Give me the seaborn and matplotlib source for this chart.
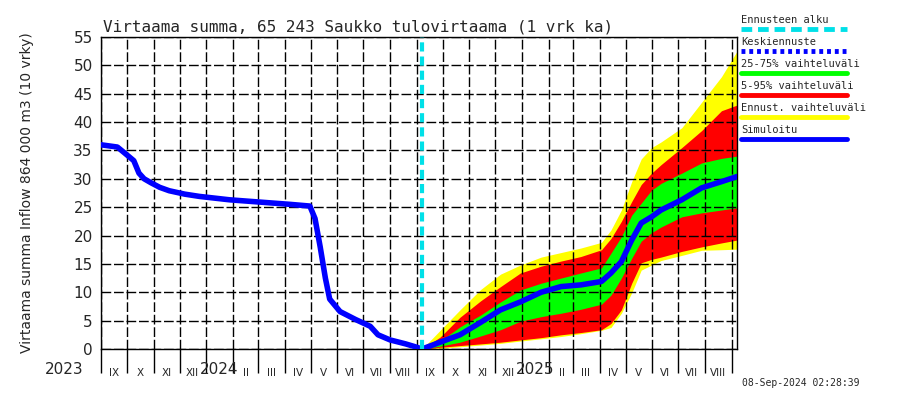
import matplotlib
matplotlib.use("Agg")
import matplotlib.pyplot as plt
import matplotlib.dates as mdates
import matplotlib.ticker as mticker
import matplotlib.transforms as mtransforms
from matplotlib.lines import Line2D
import pandas as pd
import seaborn as sns

# historiallinen simuloitu summa
hist_dates = ["2023-09-01", "2023-09-20", "2023-09-28", "2023-10-09", "2023-10-15",
              "2023-10-21", "2023-10-29", "2023-11-08", "2023-11-19", "2023-12-07",
              "2023-12-24", "2024-01-28", "2024-03-03", "2024-04-07", "2024-04-30",
              "2024-05-06", "2024-05-12", "2024-05-18", "2024-05-23", "2024-06-04",
              "2024-06-22", "2024-07-09", "2024-07-18", "2024-08-01", "2024-08-19",
              "2024-08-30", "2024-09-07"]
hist_values = [36.0, 35.6, 34.6, 33.2, 31.0, 30.0, 29.3, 28.5, 27.9, 27.3,
               26.9, 26.3, 25.9, 25.5, 25.2, 23.0, 18.0, 12.5, 8.8, 6.6,
               5.2, 4.0, 2.5, 1.6, 0.9, 0.4, 0.0]

# ennuste
fc_dates = ["2024-09-07", "2024-09-28", "2024-10-21", "2024-11-14", "2024-12-07",
            "2024-12-30", "2025-01-23", "2025-02-15", "2025-03-10", "2025-04-03",
            "2025-04-14", "2025-04-26", "2025-05-08", "2025-05-19", "2025-05-31",
            "2025-06-11", "2025-07-05", "2025-07-28", "2025-08-20", "2025-09-07"]
fc_median = [0.0, 1.2, 2.5, 4.7, 6.9, 8.3, 10.0, 11.0, 11.3, 11.9,
             13.4, 15.4, 19.2, 22.2, 23.3, 24.5, 26.3, 28.4, 29.5, 30.4]
fc_p25 = [0.0, 0.5, 1.2, 2.3, 3.4, 4.9, 5.7, 6.3, 7.0, 7.9,
          9.5, 12.5, 16.0, 19.0, 20.5, 21.5, 23.3, 24.0, 24.5, 24.9]
fc_p75 = [0.0, 1.4, 3.9, 6.0, 8.3, 10.4, 11.6, 12.5, 13.4, 14.3,
          16.9, 19.8, 23.6, 25.7, 28.0, 29.2, 31.0, 32.8, 33.6, 34.0]
fc_p05 = [0.0, 0.3, 0.6, 0.9, 1.2, 1.6, 2.0, 2.5, 2.9, 3.4,
          4.5, 6.9, 11.6, 15.2, 15.8, 16.2, 17.2, 18.0, 18.7, 19.2]
fc_p95 = [0.0, 2.1, 5.6, 8.5, 11.0, 13.4, 14.6, 15.5, 16.3, 17.5,
          19.5, 22.5, 26.0, 29.0, 31.0, 32.5, 35.5, 38.5, 42.0, 43.0]
fc_min = [0.0, 0.1, 0.4, 0.7, 1.0, 1.4, 1.8, 2.2, 2.7, 3.3,
          3.8, 6.3, 9.9, 13.9, 14.8, 15.6, 16.5, 17.4, 17.5, 17.6]
fc_max = [0.0, 3.3, 6.9, 10.5, 13.2, 14.8, 16.2, 17.0, 17.8, 18.8,
          21.0, 24.5, 29.5, 33.5, 35.5, 36.5, 39.0, 43.5, 48.0, 52.5]

forecast_start = "2024-09-07"
x_start, x_end = "2023-09-01", "2025-09-07"
month_labels = ["IX", "X", "XI", "XII", "I", "II", "III", "IV", "V", "VI", "VII", "VIII"]

title = "Virtaama summa, 65 243 Saukko tulovirtaama (1 vrk ka)"
ylabel = "Virtaama summa Inflow 864 000 m3 (10 vrky)"
timestamp = "08-Sep-2024 02:28:39"
legend_items = [("Ennusteen alku", "#00E0E8", (0, (2.2, 1.2))),
                ("Keskiennuste", "#0000FF", (0, (0.8, 0.8))),
                ("25-75% vaihteluväli", "#00FF00", "-"),
                ("5-95% vaihteluväli", "#FF0000", "-"),
                ("Ennust. vaihteluväli", "#FFFF00", "-"),
                ("Simuloitu", "#0000FF", "-")]

hist = pd.DataFrame({"pvm": pd.to_datetime(hist_dates), "arvo": hist_values})
fc = pd.DataFrame({"pvm": pd.to_datetime(fc_dates), "med": fc_median,
                   "p25": fc_p25, "p75": fc_p75, "p05": fc_p05, "p95": fc_p95,
                   "mn": fc_min, "mx": fc_max})

sns.set_style("white")
plt.rcParams['font.family'] = ['DejaVu Sans']

fig = plt.figure(figsize=(9, 4), dpi=100)
ax = fig.add_axes([101 / 900, 51 / 400, 636 / 900, 312 / 400])

# vaihteluvälit
ax.fill_between(fc["pvm"], fc["mn"], fc["mx"], color="#FFFF00", lw=0, zorder=1)
ax.fill_between(fc["pvm"], fc["p05"], fc["p95"], color="#FF0000", lw=0, zorder=1.1)
ax.fill_between(fc["pvm"], fc["p25"], fc["p75"], color="#00FF00", lw=0, zorder=1.2)

sns.lineplot(data=hist, x="pvm", y="arvo", ax=ax, color="#0000FF", lw=4, zorder=3)
sns.lineplot(data=fc, x="pvm", y="med", ax=ax, color="#0000FF", lw=4, zorder=3)

ax.axvline(pd.Timestamp(forecast_start), color="#00E0E8", lw=3,
           ls=(0, (2.2, 1.2)), zorder=4)

ax.set_xlim(pd.Timestamp(x_start), pd.Timestamp(x_end))
ax.set_ylim(0, 55)
ax.set_yticks(range(0, 56, 5))
ax.set_xlabel("")
ax.set_ylabel("")

# kuukausijako
ax.xaxis.set_major_locator(mdates.MonthLocator())
ax.xaxis.set_major_formatter(mticker.NullFormatter())
minor_pos = pd.date_range("2023-09-01", "2025-08-01", freq="MS") + pd.Timedelta(days=15)
minor_lab = [month_labels[(d.month - 9) % 12] if d.month != 1 else "" for d in minor_pos]
ax.xaxis.set_minor_locator(mticker.FixedLocator(mdates.date2num(minor_pos)))
ax.xaxis.set_minor_formatter(mticker.FixedFormatter(minor_lab))

ax.tick_params(axis="x", which="major", direction="out", length=17, width=1,
               color="black", bottom=True)
ax.tick_params(axis="x", which="minor", length=0, pad=14, labelsize=7.5)
ax.tick_params(axis="y", length=0, pad=6, labelsize=11)

ax.grid(True, which="major", color="black", lw=1, ls=(0, (7, 2)))
ax.set_axisbelow(False)
for sp in ax.spines.values():
    sp.set_color("black")
    sp.set_linewidth(1)

# vuodet
trans = mtransforms.blended_transform_factory(ax.transData, ax.transAxes)
for yr in ["2024", "2025"]:
    ax.text(pd.Timestamp(yr + "-01-16"), -0.067, yr, transform=trans,
            ha="center", va="center", fontsize=11)
fig.text(64 / 900, 1 - 370 / 400, "2023", ha="center", va="center", fontsize=11)

fig.text(103 / 900, 1 - 27 / 400, title, ha="left", va="center",
         family="DejaVu Sans Mono", fontsize=11.5)
fig.text(27 / 900, 1 - 193 / 400, ylabel, rotation=90, ha="center", va="center",
         fontsize=10)
fig.text(742 / 900, 1 - 383 / 400, timestamp, ha="left", va="center",
         family="DejaVu Sans Mono", fontsize=7)

# selite
for i, (lab, col, ls) in enumerate(legend_items):
    ty = 1 - (20 + 22 * i) / 400
    ly = 1 - (29 + 22 * i) / 400
    fig.text(741 / 900, ty, lab, ha="left", va="center",
             family="DejaVu Sans Mono", fontsize=7.5)
    fig.add_artist(Line2D([741 / 900, 847 / 900], [ly, ly], color=col, lw=3.5,
                          ls=ls, transform=fig.transFigure))

fig.savefig("out.png", dpi=100)
